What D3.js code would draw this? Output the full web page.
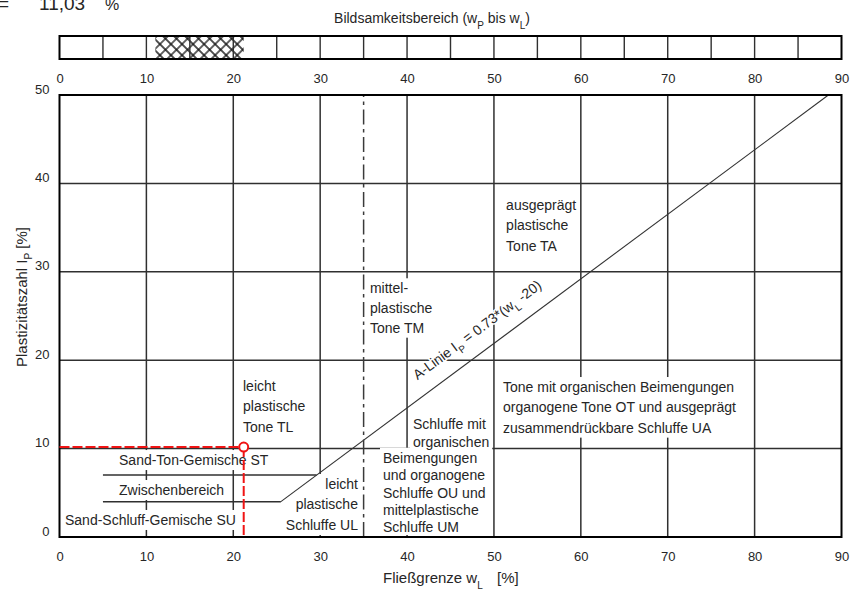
<!DOCTYPE html>
<html lang="de">
<head>
<meta charset="utf-8">
<title>Plastizitätsdiagramm</title>
<script src="https://cdn.jsdelivr.net/npm/d3@7/dist/d3.min.js"></script>
<style>
  html, body { margin: 0; padding: 0; background: #fff; }
  svg { display: block; font-family: "Liberation Sans", Arial, Helvetica, sans-serif; }
</style>
</head>
<body>
<svg id="chart" width="860" height="590"></svg>
<script>
// ---------- data ----------
const liquidLimitTicks = [0, 10, 20, 30, 40, 50, 60, 70, 80, 90];
const plasticityTicks = [0, 10, 20, 30, 40, 50];
const rangeCells = [5, 10, 15, 20, 25, 30, 35, 40, 45, 50, 55, 60, 65, 70, 75, 80, 85];
const gridWL = [10, 20, 30, 40, 50, 60, 70, 80];
const gridIP = [10, 20, 30, 40];

// sample (water contents in %)
const sampleLiquidLimit = 21.2;
const samplePlasticLimit = 11.03;

// A-line  I_P = 0.73 * (w_L - 20)
const aLineFactor = 0.73;
const aLineShift = 20;
const aLineStartIP = 4;

// boundaries of the sand mixtures and the medium-plastic divider
const sandBoundaryIP = [4, 7];
const sandBoundaryStartWL = 5;
const mediumPlasticWL = 35;

// zone labels
const labelTA = ["ausgeprägt", "plastische", "Tone TA"];
const labelTM = ["mittel-", "plastische", "Tone TM"];
const labelTL = ["leicht", "plastische", "Tone TL"];
const labelOUtop = ["Schluffe mit", "organischen"];
const labelOUbottom = ["Beimengungen", "und organogene", "Schluffe OU und", "mittelplastische", "Schluffe UM"];
const labelOT = ["Tone mit organischen Beimengungen", "organogene Tone OT und ausgeprägt", "zusammendrückbare Schluffe UA"];
const labelUL = ["leicht", "plastische", "Schluffe UL"];
const labelST = ["Sand-Ton-Gemische ST"];
const labelZW = ["Zwischenbereich"];
const labelSU = ["Sand-Schluff-Gemische SU"];

// ---------- setup ----------
const svg = d3.select("#chart");
const TEXT = "#262626";
const GRID = "#303030";
const RED = "#f01414";

const x = d3.scaleLinear().domain([0, 90]).range([59.5, 841.5]);
const y = d3.scaleLinear().domain([0, 50]).range([537, 95]);
const aLine = wl => aLineFactor * (wl - aLineShift);
const aLineWL = ip => ip / aLineFactor + aLineShift;
const fmt = d3.formatLocale({ decimal: ",", thousands: ".", grouping: [3], currency: ["", " €"] }).format(".2f");

const sampleIP = sampleLiquidLimit - samplePlasticLimit;

// ---------- readout ----------
const readout = svg.append("text").attr("y", 9.5).attr("fill", TEXT);
readout.append("tspan").attr("x", -2).attr("font-size", 19).text("=");
readout.append("tspan").attr("x", 39).attr("font-size", 19).text(fmt(samplePlasticLimit));
readout.append("tspan").attr("x", 105).attr("font-size", 16).text("%");

// ---------- plastic range bar ----------
const bar = { top: 36, bottom: 59 };
const defs = svg.append("defs");
const hatch = defs.append("pattern")
  .attr("id", "hatch").attr("patternUnits", "userSpaceOnUse")
  .attr("width", 7.8).attr("height", 7.8)
  .attr("patternTransform", "rotate(45)");
hatch.append("rect").attr("width", 7.8).attr("height", 7.8).attr("fill", "#fff");
hatch.append("path").attr("d", "M3.9,0V7.8M0,3.9H7.8")
  .attr("stroke", "#111").attr("stroke-width", 1.3);

svg.append("rect")
  .attr("x", x(samplePlasticLimit)).attr("y", bar.top)
  .attr("width", x(sampleLiquidLimit) - x(samplePlasticLimit))
  .attr("height", bar.bottom - bar.top)
  .attr("fill", "url(#hatch)");

svg.append("g").selectAll("line").data(rangeCells).join("line")
  .attr("x1", d => x(d)).attr("x2", d => x(d))
  .attr("y1", bar.top).attr("y2", bar.bottom)
  .attr("stroke", GRID).attr("stroke-width", 1.4);

svg.append("rect")
  .attr("x", x(0)).attr("y", bar.top)
  .attr("width", x(90) - x(0)).attr("height", bar.bottom - bar.top)
  .attr("fill", "none").attr("stroke", "#000").attr("stroke-width", 2);

const barTitle = svg.append("text")
  .attr("x", 432).attr("y", 23).attr("text-anchor", "middle")
  .attr("font-size", 14).attr("fill", TEXT);
barTitle.append("tspan").text("Bildsamkeitsbereich (w");
barTitle.append("tspan").attr("font-size", 10).attr("dy", 6).text("P");
barTitle.append("tspan").attr("dy", -6).text(" bis w");
barTitle.append("tspan").attr("font-size", 10).attr("dy", 6).text("L");
barTitle.append("tspan").attr("dy", -6).text(")");

function styleAxis(g) {
  g.select(".domain").remove();
  g.attr("font-family", null).attr("font-size", 13);
  g.selectAll("text").attr("fill", TEXT);
}

svg.append("g")
  .attr("transform", `translate(0,${bar.bottom})`)
  .call(d3.axisBottom(x).tickValues(liquidLimitTicks).tickSize(0).tickPadding(15))
  .call(styleAxis);

// ---------- grid ----------
const grid = svg.append("g").attr("stroke", GRID).attr("stroke-width", 1.5);
grid.selectAll(".v").data(gridWL).join("line").attr("class", "v")
  .attr("x1", d => x(d)).attr("x2", d => x(d))
  .attr("y1", y(50)).attr("y2", y(0));
grid.selectAll(".h").data(gridIP).join("line").attr("class", "h")
  .attr("x1", x(0)).attr("x2", x(90))
  .attr("y1", d => y(d)).attr("y2", d => y(d));

// ---------- zone labels on white boxes ----------
// boxes live in their own layer so no box hides another label's text
const boxLayer = svg.append("g");
const textLayer = svg.append("g");

function addLabel(lines, wl, ip, lineHeight, anchor = "start") {
  const box = boxLayer.append("rect").attr("fill", "#fff");
  const t = textLayer.append("text")
    .attr("font-size", 14).attr("fill", TEXT).attr("text-anchor", anchor);
  lines.forEach((s, i) => {
    t.append("tspan").attr("x", x(wl)).attr("y", y(ip) + i * lineHeight).text(s);
  });
  const b = t.node().getBBox();
  const top = b.y - 2;
  const bottom = Math.min(b.y + b.height + 2, y(0) - 2);
  box.attr("x", b.x - 3).attr("y", top)
    .attr("width", b.width + 6).attr("height", bottom - top);
}

addLabel(labelTA, 51.4, 37.0, 20.3);
addLabel(labelTM, 35.73, 27.57, 19.7);
addLabel(labelTL, 21.12, 16.52, 20.4);
addLabel(labelOUtop, 40.68, 12.2, 17.4);
addLabel(labelOUbottom, 37.23, 8.4, 17.4);
addLabel(labelOT, 51.04, 16.4, 20.3);
addLabel(labelUL, 34.35, 5.43, 20.5, "end");
addLabel(labelST, 6.85, 8.14, 17);
addLabel(labelZW, 6.85, 4.75, 17);
addLabel(labelSU, 0.63, 1.36, 17);

// ---------- boundary lines ----------
const line = d3.line().x(d => x(d[0])).y(d => y(d[1]));

svg.append("g").selectAll("path").data(sandBoundaryIP).join("path")
  .attr("d", ip => line([[sandBoundaryStartWL, ip], [aLineWL(ip), ip]]))
  .attr("fill", "none").attr("stroke", GRID).attr("stroke-width", 1.5);

svg.append("path")
  .attr("d", line([[aLineWL(aLineStartIP), aLineStartIP], [aLineWL(50), 50]]))
  .attr("fill", "none").attr("stroke", "#333").attr("stroke-width", 1.1);

svg.append("path")
  .attr("d", line([[mediumPlasticWL, 0], [mediumPlasticWL, 50]]))
  .attr("fill", "none").attr("stroke", "#3a3a3a").attr("stroke-width", 1.5)
  .attr("stroke-dasharray", "15,4.5,3.5,4.5");

// A-line label, written along the line
const labelWL = 42.3;
const angle = Math.atan2(y(aLine(60)) - y(aLine(40)), x(60) - x(40)) * 180 / Math.PI;
const aLabel = svg.append("text")
  .attr("transform", `translate(${x(labelWL)},${y(aLine(labelWL))}) rotate(${angle})`)
  .attr("y", -16).attr("font-size", 14).attr("fill", TEXT)
  .attr("stroke", "#fff").attr("stroke-width", 3).attr("paint-order", "stroke");
aLabel.append("tspan").text("A-Linie I");
aLabel.append("tspan").attr("font-size", 10).attr("dy", 5).text("P");
aLabel.append("tspan").attr("dy", -5).text(" = 0.73*(w");
aLabel.append("tspan").attr("font-size", 10).attr("dy", 5).text("L");
aLabel.append("tspan").attr("dy", -5).text(" -20)");

// ---------- frame ----------
svg.append("rect")
  .attr("x", x(0)).attr("y", y(50))
  .attr("width", x(90) - x(0)).attr("height", y(0) - y(50))
  .attr("fill", "none").attr("stroke", "#000").attr("stroke-width", 2);

// ---------- sample point ----------
svg.append("path")
  .attr("d", line([[0, sampleIP], [sampleLiquidLimit, sampleIP]]))
  .attr("stroke", RED).attr("stroke-width", 2).attr("stroke-dasharray", "10,3").attr("fill", "none");
svg.append("path")
  .attr("d", line([[sampleLiquidLimit, sampleIP], [sampleLiquidLimit, 0]]))
  .attr("stroke", RED).attr("stroke-width", 2).attr("stroke-dasharray", "10,3").attr("fill", "none");
svg.append("circle")
  .attr("cx", x(sampleLiquidLimit)).attr("cy", y(sampleIP)).attr("r", 4.5)
  .attr("fill", "#fff").attr("stroke", RED).attr("stroke-width", 2);

// ---------- axes ----------
svg.append("g")
  .attr("transform", `translate(0,${y(0)})`)
  .call(d3.axisBottom(x).tickValues(liquidLimitTicks).tickSize(0).tickPadding(15))
  .call(styleAxis);

svg.append("g")
  .attr("transform", `translate(${x(0)},0)`)
  .call(d3.axisLeft(y).tickValues(plasticityTicks).tickSize(0).tickPadding(10))
  .call(styleAxis)
  .call(g => g.selectAll("text").attr("dy", "-0.15em"));

const xTitle = svg.append("text")
  .attr("x", 383).attr("y", 583).attr("font-size", 15).attr("fill", TEXT);
xTitle.append("tspan").text("Fließgrenze w");
xTitle.append("tspan").attr("font-size", 10).attr("dy", 6).text("L");
xTitle.append("tspan").attr("dy", -6).attr("x", 497).text("[%]");

const yTitle = svg.append("text")
  .attr("transform", "translate(27,297) rotate(-90)")
  .attr("text-anchor", "middle").attr("font-size", 15).attr("fill", TEXT);
yTitle.append("tspan").text("Plastizitätszahl I");
yTitle.append("tspan").attr("font-size", 10).attr("dy", 5).text("P");
yTitle.append("tspan").attr("dy", -5).text(" [%]");
</script>
</body>
</html>
